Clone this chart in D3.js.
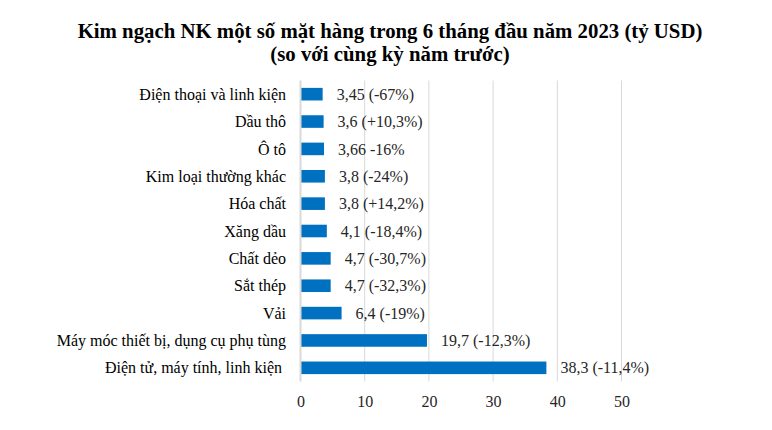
<!DOCTYPE html>
<html><head><meta charset="utf-8">
<script src="https://cdn.jsdelivr.net/npm/d3@7"></script>
<style>body{margin:0;background:#fff} text{font-family:"Liberation Serif","Times New Roman",serif}</style>
</head><body>
<svg id="c" width="772" height="430"></svg>
<script>
const categories = ["Điện thoại và linh kiện","Dầu thô","Ô tô","Kim loại thường khác","Hóa chất","Xăng dầu","Chất dẻo","Sắt thép","Vải","Máy móc thiết bị, dụng cụ phụ tùng","Điện tử, máy tính, linh kiện "];
const values = [3.45,3.6,3.66,3.8,3.8,4.1,4.7,4.7,6.4,19.7,38.3];
const valueLabels = ["3,45 (-67%)","3,6 (+10,3%)","3,66 -16%","3,8 (-24%)","3,8 (+14,2%)","4,1 (-18,4%)","4,7 (-30,7%)","4,7 (-32,3%)","6,4 (-19%)","19,7 (-12,3%)","38,3 (-11,4%)"];
const ticks = [0,10,20,30,40,50];
const titleLines = ["Kim ngạch NK một số mặt hàng trong 6 tháng đầu năm 2023 (tỷ USD)","(so với cùng kỳ năm trước)"];

const svg = d3.select("#c");
const x = d3.scaleLinear().domain([0,50]).range([300.5,621.5]);
const y = d3.scaleBand().domain(categories).range([80.5,381.5]).paddingInner(0.54).paddingOuter(0.27);

svg.selectAll("text.title").data(titleLines).join("text")
  .attr("x",390).attr("y",(d,i)=>38+i*23).attr("text-anchor","middle")
  .attr("font-weight","bold").attr("font-size","20.8px").attr("fill","#000").text(d=>d);

svg.append("g").selectAll("line").data(ticks.slice(1)).join("line")
  .attr("x1",d=>x(d)).attr("x2",d=>x(d)).attr("y1",80.5).attr("y2",381.5)
  .attr("stroke","#d9d9d9").attr("stroke-width",1);

svg.append("g").selectAll("rect").data(values).join("rect")
  .attr("x",x(0)).attr("y",(d,i)=>y(categories[i]))
  .attr("width",d=>x(d)-x(0)).attr("height",y.bandwidth())
  .attr("fill","#0070c0");

svg.append("line").attr("x1",x(0)).attr("x2",x(0)).attr("y1",80.5).attr("y2",381.5)
  .attr("stroke","#d9d9d9").attr("stroke-width",2);

svg.append("g").selectAll("text").data(values).join("text")
  .attr("x",d=>x(d)+14).attr("y",(d,i)=>y(categories[i])+y.bandwidth()/2).attr("dy","0.35em")
  .attr("font-size","16px").attr("fill","#262626")
  .text((d,i)=>valueLabels[i]);

svg.append("g").selectAll("text").data(categories).join("text")
  .attr("x",286).attr("y",d=>y(d)+y.bandwidth()/2).attr("dy","0.35em").attr("text-anchor","end")
  .attr("font-size","16px").attr("fill","#000")
  .style("white-space","pre").text(d=>d);

const ax = svg.append("g").attr("transform","translate(0,382)")
  .call(d3.axisBottom(x).tickValues(ticks).tickSize(0).tickPadding(14).tickFormat(d3.format("d")));
ax.select(".domain").remove();
ax.selectAll("text").attr("font-family",null).attr("font-size","16px").attr("fill","#262626");
</script>
</body></html>
